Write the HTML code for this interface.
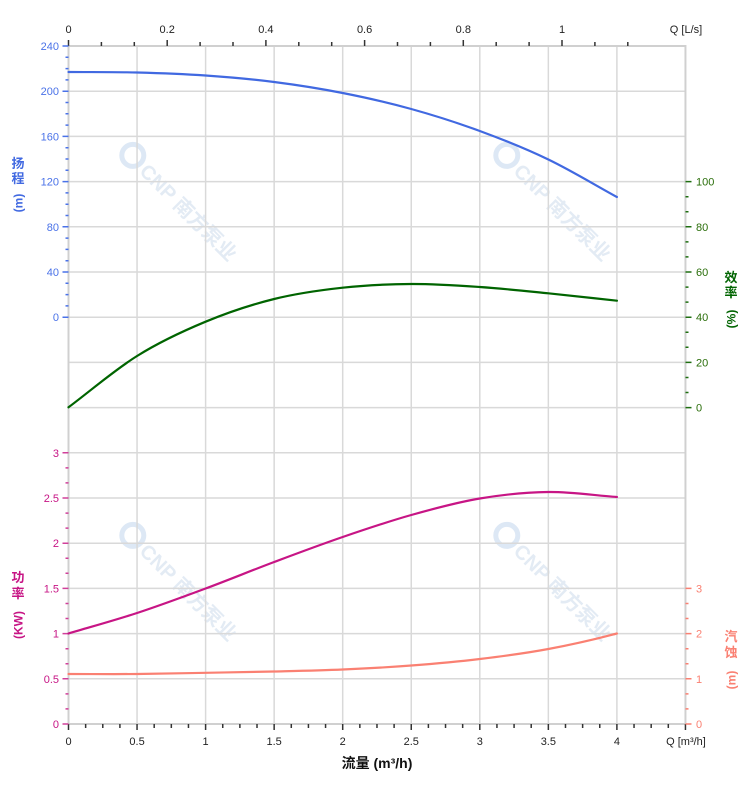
<!DOCTYPE html>
<html>
<head>
<meta charset="utf-8">
<style>
html,body{margin:0;padding:0;background:#fff;}
svg{display:block;}
text{font-family:"Liberation Sans","Noto Sans CJK SC",sans-serif;}
</style>
</head>
<body>
<svg width="752" height="797" viewBox="0 0 752 797" xmlns="http://www.w3.org/2000/svg">
<rect width="752" height="797" fill="#fff"/>

<!-- watermarks -->
<g fill="#e3ebf4" font-weight="bold" font-size="20">
  <g transform="translate(183,207) rotate(45)">
    <circle cx="-72" cy="-1" r="11" fill="none" stroke="#dde8f5" stroke-width="5"/>
    <text x="-56" y="7" font-family="Liberation Sans, Noto Sans CJK SC, sans-serif">CNP 南方泵业</text>
  </g>
  <g transform="translate(557,207) rotate(45)">
    <circle cx="-72" cy="-1" r="11" fill="none" stroke="#dde8f5" stroke-width="5"/>
    <text x="-56" y="7">CNP 南方泵业</text>
  </g>
  <g transform="translate(183,587) rotate(45)">
    <circle cx="-72" cy="-1" r="11" fill="none" stroke="#dde8f5" stroke-width="5"/>
    <text x="-56" y="7">CNP 南方泵业</text>
  </g>
  <g transform="translate(557,587) rotate(45)">
    <circle cx="-72" cy="-1" r="11" fill="none" stroke="#dde8f5" stroke-width="5"/>
    <text x="-56" y="7">CNP 南方泵业</text>
  </g>
</g>

<!-- grid -->
<g stroke="#d9d9d9" stroke-width="1.5" fill="none">
  <path d="M68.5 91.2H685.45M68.5 136.4H685.45M68.5 181.6H685.45M68.5 226.8H685.45M68.5 272H685.45M68.5 317.2H685.45M68.5 362.4H685.45M68.5 407.6H685.45M68.5 452.8H685.45M68.5 498H685.45M68.5 543.2H685.45M68.5 588.4H685.45M68.5 633.6H685.45M68.5 678.8H685.45"/>
  <path d="M137.05 46V724M205.6 46V724M274.15 46V724M342.7 46V724M411.25 46V724M479.8 46V724M548.35 46V724M616.9 46V724"/>
</g>
<!-- frame -->
<rect x="68.5" y="46" width="616.95" height="678" fill="none" stroke="#d0d0d0" stroke-width="2"/>

<!-- top ticks -->
<g stroke="#333" stroke-width="1.5">
  <path d="M68.5 40V46M167.2 40V46M265.9 40V46M364.6 40V46M463.3 40V46M562 40V46"/>
  <path d="M101.4 42V46M134.3 42V46M200.1 42V46M233 42V46M298.8 42V46M331.7 42V46M397.5 42V46M430.4 42V46M496.2 42V46M529.1 42V46M594.9 42V46M627.8 42V46"/>
</g>
<!-- bottom ticks -->
<g stroke="#333" stroke-width="1.5">
  <path d="M68.5 724V730M137.05 724V730M205.6 724V730M274.15 724V730M342.7 724V730M411.25 724V730M479.8 724V730M548.35 724V730M616.9 724V730M685.45 724V730"/>
  <path d="M85.64 724V728M102.78 724V728M119.91 724V728M154.19 724V728M171.33 724V728M188.46 724V728M222.74 724V728M239.88 724V728M257.01 724V728M291.29 724V728M308.43 724V728M325.56 724V728M359.84 724V728M376.98 724V728M394.11 724V728M428.39 724V728M445.53 724V728M462.66 724V728M496.94 724V728M514.08 724V728M531.21 724V728M565.49 724V728M582.63 724V728M599.76 724V728M634.04 724V728M651.18 724V728M668.31 724V728"/>
</g>

<!-- head ticks (left, blue) -->
<g stroke="#4a72e8" stroke-width="1.5">
  <path d="M62.5 46H68.5M62.5 91.2H68.5M62.5 136.4H68.5M62.5 181.6H68.5M62.5 226.8H68.5M62.5 272H68.5M62.5 317.2H68.5"/>
  <path d="M65.5 57.3H68.5M65.5 68.6H68.5M65.5 79.9H68.5M65.5 102.5H68.5M65.5 113.8H68.5M65.5 125.1H68.5M65.5 147.7H68.5M65.5 159H68.5M65.5 170.3H68.5M65.5 192.9H68.5M65.5 204.2H68.5M65.5 215.5H68.5M65.5 238.1H68.5M65.5 249.4H68.5M65.5 260.7H68.5M65.5 283.3H68.5M65.5 294.6H68.5M65.5 305.9H68.5"/>
</g>
<!-- power ticks (left, magenta) -->
<g stroke="#d0409a" stroke-width="1.5">
  <path d="M62.5 452.8H68.5M62.5 498H68.5M62.5 543.2H68.5M62.5 588.4H68.5M62.5 633.6H68.5M62.5 678.8H68.5M62.5 724H68.5"/>
  <path d="M65.5 467.9H68.5M65.5 482.9H68.5M65.5 513.1H68.5M65.5 528.1H68.5M65.5 558.3H68.5M65.5 573.3H68.5M65.5 603.5H68.5M65.5 618.5H68.5M65.5 648.7H68.5M65.5 663.7H68.5M65.5 693.9H68.5M65.5 708.9H68.5"/>
</g>
<!-- efficiency ticks (right, green) -->
<g stroke="#1e6e10" stroke-width="1.5">
  <path d="M685.5 181.6H691.5M685.5 226.8H691.5M685.5 272H691.5M685.5 317.2H691.5M685.5 362.4H691.5M685.5 407.6H691.5"/>
  <path d="M685.5 196.7H688.5M685.5 211.7H688.5M685.5 241.9H688.5M685.5 256.9H688.5M685.5 287.1H688.5M685.5 302.1H688.5M685.5 332.3H688.5M685.5 347.3H688.5M685.5 377.5H688.5M685.5 392.5H688.5"/>
</g>
<!-- npsh ticks (right, salmon) -->
<g stroke="#fa8072" stroke-width="1.5">
  <path d="M685.5 588.4H691.5M685.5 633.6H691.5M685.5 678.8H691.5M685.5 724H691.5"/>
  <path d="M685.5 603.5H688.5M685.5 618.5H688.5M685.5 648.7H688.5M685.5 663.7H688.5M685.5 693.9H688.5M685.5 708.9H688.5"/>
</g>

<!-- curves -->
<g fill="none" stroke-width="2.2" stroke-linecap="round">
  <path stroke="#4169e1" d="M68.5,72 C91.35,72.17 114.2,71.92 137.05,72.5 C159.9,73.08 182.75,73.92 205.6,75.5 C228.45,77.08 251.3,79.08 274.15,82 C297,84.92 319.85,88.5 342.7,93 C365.55,97.5 388.4,102.67 411.25,109 C434.1,115.33 456.95,122.58 479.8,131 C502.65,139.42 525.5,148.5 548.35,159.5 C571.2,170.5 594.05,184.5 616.9,197"/>
  <path stroke="#006400" d="M68.5,407.3 C91.35,390.2 114.2,370.27 137.05,356 C159.9,341.73 182.75,331.2 205.6,321.7 C228.45,312.2 251.3,304.67 274.15,299 C297,293.33 319.85,290.2 342.7,287.7 C365.55,285.2 388.4,284.12 411.25,284 C434.1,283.88 456.95,285.45 479.8,287 C502.65,288.55 525.5,291.02 548.35,293.3 C571.2,295.58 594.05,298.23 616.9,300.7"/>
  <path stroke="#c71585" d="M68.5,633.5 C91.35,626.67 114.2,620.5 137.05,613 C159.9,605.5 182.75,597 205.6,588.5 C228.45,580 251.3,570.58 274.15,562 C297,553.42 319.85,544.83 342.7,537 C365.55,529.17 388.4,521.42 411.25,515 C434.1,508.58 456.95,502.33 479.8,498.5 C502.65,494.67 525.5,492.25 548.35,492 C571.2,491.75 594.05,495.33 616.9,497"/>
  <path stroke="#fa8072" d="M68.5,674 C91.35,674 114.2,674.2 137.05,674 C159.9,673.8 182.75,673.22 205.6,672.8 C228.45,672.38 251.3,672.05 274.15,671.5 C297,670.95 319.85,670.5 342.7,669.5 C365.55,668.5 388.4,667.25 411.25,665.5 C434.1,663.75 456.95,661.75 479.8,659 C502.65,656.25 525.5,653.25 548.35,649 C571.2,644.75 594.05,639.58 616.9,633.5"/>
</g>

<!-- head labels -->
<g fill="#4a72e8" font-size="11" text-anchor="end">
  <text x="59" y="50">240</text>
  <text x="59" y="95.2">200</text>
  <text x="59" y="140.4">160</text>
  <text x="59" y="185.6">120</text>
  <text x="59" y="230.8">80</text>
  <text x="59" y="276">40</text>
  <text x="59" y="321.2">0</text>
</g>
<!-- power labels -->
<g fill="#c71585" font-size="11" text-anchor="end">
  <text x="59" y="456.8">3</text>
  <text x="59" y="502">2.5</text>
  <text x="59" y="547.2">2</text>
  <text x="59" y="592.4">1.5</text>
  <text x="59" y="637.6">1</text>
  <text x="59" y="682.8">0.5</text>
  <text x="59" y="728">0</text>
</g>
<!-- efficiency labels -->
<g fill="#2a6e0a" font-size="11">
  <text x="696" y="185.6">100</text>
  <text x="696" y="230.8">80</text>
  <text x="696" y="276">60</text>
  <text x="696" y="321.2">40</text>
  <text x="696" y="366.4">20</text>
  <text x="696" y="411.6">0</text>
</g>
<!-- npsh labels -->
<g fill="#fa8072" font-size="11">
  <text x="696" y="592.4">3</text>
  <text x="696" y="637.6">2</text>
  <text x="696" y="682.8">1</text>
  <text x="696" y="728">0</text>
</g>

<!-- bottom labels -->
<g fill="#222" font-size="11" text-anchor="middle">
  <text x="68.5" y="745">0</text>
  <text x="137.05" y="745">0.5</text>
  <text x="205.6" y="745">1</text>
  <text x="274.15" y="745">1.5</text>
  <text x="342.7" y="745">2</text>
  <text x="411.25" y="745">2.5</text>
  <text x="479.8" y="745">3</text>
  <text x="548.35" y="745">3.5</text>
  <text x="616.9" y="745">4</text>
  <text x="686" y="745">Q [m³/h]</text>
</g>
<!-- top labels -->
<g fill="#222" font-size="11" text-anchor="middle">
  <text x="68.5" y="33">0</text>
  <text x="167.2" y="33">0.2</text>
  <text x="265.9" y="33">0.4</text>
  <text x="364.6" y="33">0.6</text>
  <text x="463.3" y="33">0.8</text>
  <text x="562" y="33">1</text>
  <text x="686" y="33">Q [L/s]</text>
</g>

<!-- x title -->
<text x="377" y="768" font-size="14" font-weight="bold" fill="#111" text-anchor="middle">流量 (m³/h)</text>

<!-- axis titles -->
<g font-size="13" font-weight="bold" text-anchor="middle">
  <g fill="#4169e1">
    <text x="18" y="168">扬</text>
    <text x="18" y="183">程</text>
    <text transform="translate(22.5,203) rotate(-90)" font-size="12">(m)</text>
  </g>
  <g fill="#006400">
    <text x="731" y="282">效</text>
    <text x="731" y="297">率</text>
    <text transform="translate(735.5,319) rotate(-90)" font-size="12">(%)</text>
  </g>
  <g fill="#c71585">
    <text x="18" y="582">功</text>
    <text x="18" y="598">率</text>
    <text transform="translate(22.5,625) rotate(-90)" font-size="12">(KW)</text>
  </g>
  <g fill="#fa8072">
    <text x="731" y="641">汽</text>
    <text x="731" y="657">蚀</text>
    <text transform="translate(735.5,680) rotate(-90)" font-size="12">(m)</text>
  </g>
</g>
</svg>
</body>
</html>
